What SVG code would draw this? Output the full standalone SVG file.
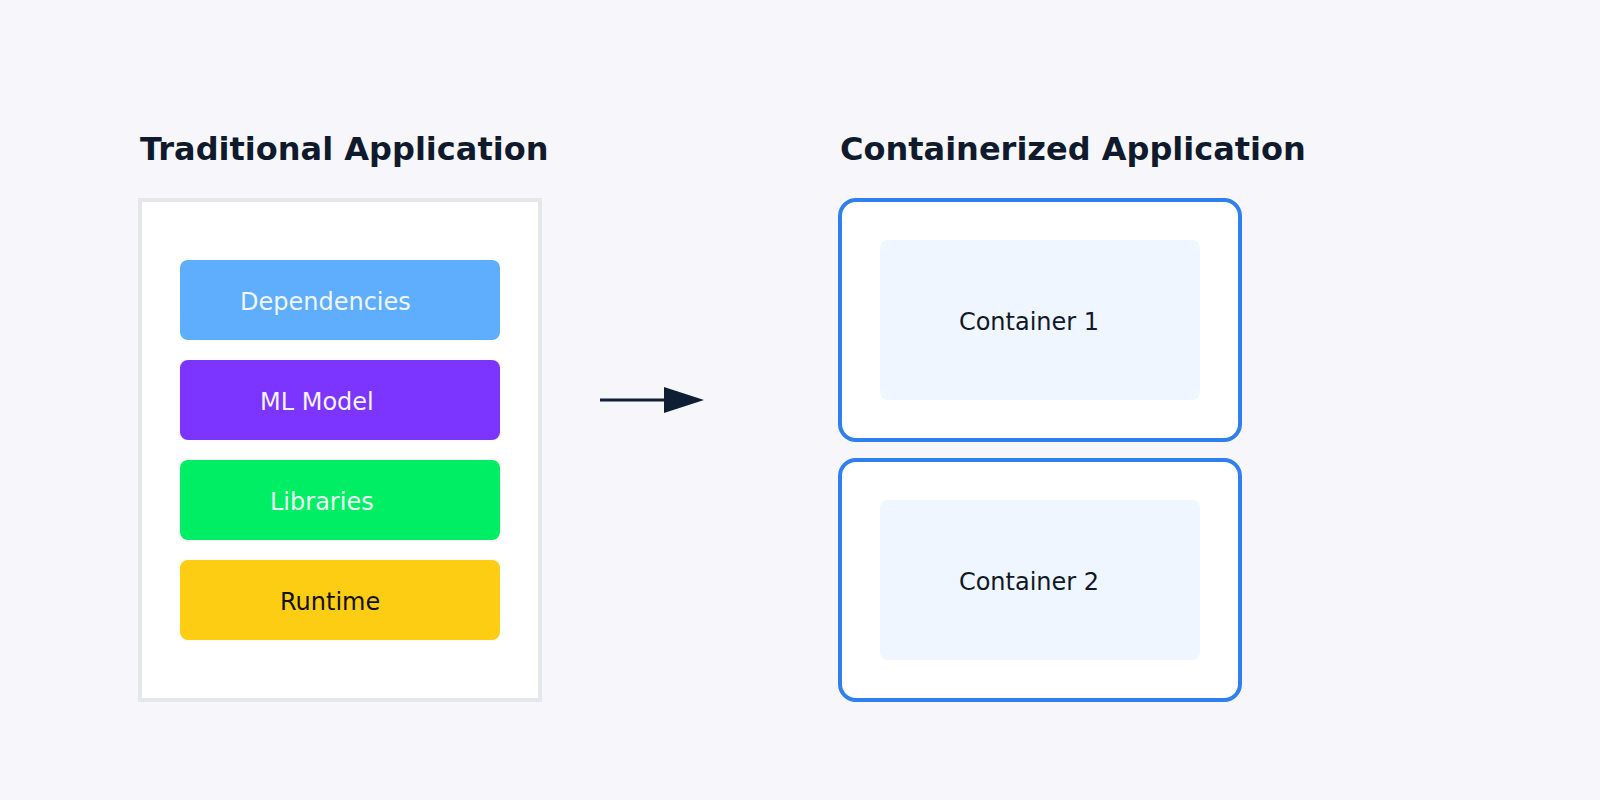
<svg xmlns="http://www.w3.org/2000/svg" width="1600" height="800" viewBox="0 0 1600 800">
  <style>
    .title { font-family: "DejaVu Sans", sans-serif; font-size: 32px; font-weight: bold; fill: #0f1b2d; }
    .lbl { font-family: "DejaVu Sans", sans-serif; font-size: 24px; }
    .layer { rx: 8px; ry: 8px; }
    .outer { fill: #ffffff; stroke: #2f80ed; stroke-width: 4; }
    .inner { fill: #eff6ff; }
  </style>
  <defs>
    <marker id="arrow" viewBox="0 0 40 26" refX="0" refY="13" markerWidth="40" markerHeight="26" markerUnits="userSpaceOnUse" orient="auto">
      <path d="M0,0 L40,13 L0,26 Z" fill="#0f1f33"/>
    </marker>
  </defs>
  <rect width="1600" height="800" fill="#f7f7fb"/>

  <g id="traditional">
    <text class="title" x="140" y="160">Traditional Application</text>
    <rect x="140" y="200" width="400" height="500" fill="#ffffff" stroke="#e5e7eb" stroke-width="4"/>
  </g>
  <g id="dependencies">
    <rect class="layer" x="180" y="260" width="320" height="80" fill="#5eaefd"/>
    <text class="lbl" x="240" y="310" fill="#eff6ff">Dependencies</text>
  </g>
  <g id="ml-model">
    <rect class="layer" x="180" y="360" width="320" height="80" fill="#7b35fe"/>
    <text class="lbl" x="260" y="410" fill="#f5f3ff">ML Model</text>
  </g>
  <g id="libraries">
    <rect class="layer" x="180" y="460" width="320" height="80" fill="#00ee64"/>
    <text class="lbl" x="270" y="510" fill="#ecfdf5">Libraries</text>
  </g>
  <g id="runtime">
    <rect class="layer" x="180" y="560" width="320" height="80" fill="#fccd12"/>
    <text class="lbl" x="280" y="610" fill="#111111">Runtime</text>
  </g>

  <g id="connectors">
    <line x1="600" y1="400" x2="664" y2="400" stroke="#0f1f33" stroke-width="3" marker-end="url(#arrow)"/>
  </g>

  <g id="containerized">
    <text class="title" x="840" y="160">Containerized Application</text>
  </g>
  <g id="container-1">
    <rect class="outer" x="840" y="200" width="400" height="240" rx="16"/>
    <rect class="inner" x="880" y="240" width="320" height="160" rx="8"/>
    <text class="lbl" x="1029" y="330" text-anchor="middle" fill="#111827">Container 1</text>
  </g>
  <g id="container-2">
    <rect class="outer" x="840" y="460" width="400" height="240" rx="16"/>
    <rect class="inner" x="880" y="500" width="320" height="160" rx="8"/>
    <text class="lbl" x="1029" y="590" text-anchor="middle" fill="#111827">Container 2</text>
  </g>
</svg>
